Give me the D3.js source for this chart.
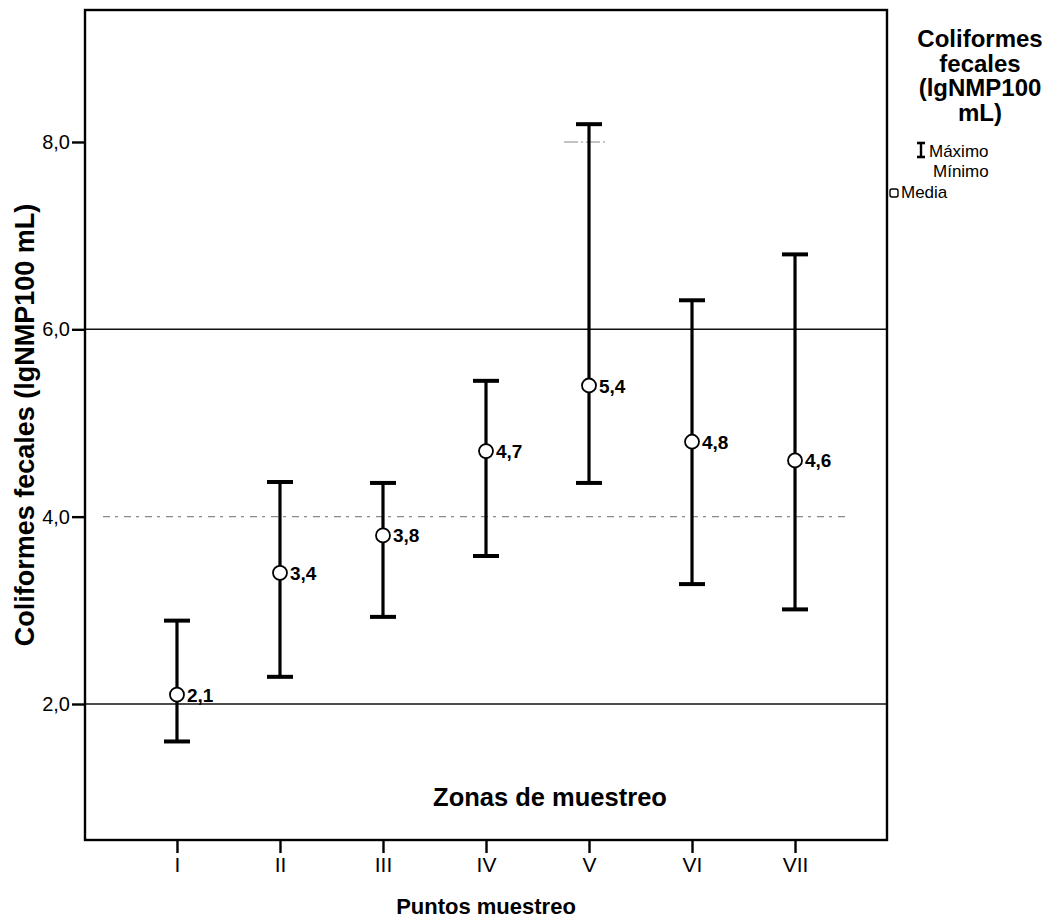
<!DOCTYPE html>
<html>
<head>
<meta charset="utf-8">
<script src="https://cdn.jsdelivr.net/npm/d3@7"></script>
<style>
  html, body { margin: 0; padding: 0; background: #fff; }
  svg { display: block; font-family: "Liberation Sans", Arial, sans-serif; }
</style>
</head>
<body>
<svg id="chart" width="1054" height="921"></svg>
<script>
// Sampling points and fecal coliform statistics (log NMP/100 mL)
const zonas   = ["I", "II", "III", "IV", "V", "VI", "VII"];
const maximos = [2.89, 4.37, 4.36, 5.45, 8.19, 6.31, 6.80];
const minimos = [1.60, 2.29, 2.93, 3.58, 4.36, 3.28, 3.01];
const medias  = [2.1, 3.4, 3.8, 4.7, 5.4, 4.8, 4.6];
const yTicks  = [2, 4, 6, 8];
const lineasSolidas = [2, 6];
const lineaPunteada = 4;
const lineaCorta = 8;   // short faint segment near zone V

const svg = d3.select("#chart");
const plot = { left: 85, right: 887, top: 10, bottom: 840 };

const x = d3.scalePoint().domain(zonas).range([plot.left, plot.right]).padding(0.893);
const y = d3.scaleLinear().domain([0.548, 9.409]).range([plot.bottom, plot.top]);
const coma = v => d3.format(".1f")(v).replace(".", ",");

const data = zonas.map((z, i) => ({ z, max: maximos[i], min: minimos[i], media: medias[i] }));

// Reference lines
svg.selectAll("line.ref-solid").data(lineasSolidas).join("line")
  .attr("class", "ref-solid")
  .attr("x1", plot.left).attr("x2", plot.right)
  .attr("y1", d => y(d)).attr("y2", d => y(d))
  .attr("stroke", "#111").attr("stroke-width", 1.6);

svg.append("line")
  .attr("x1", plot.left + 18).attr("x2", plot.right - 40)
  .attr("y1", y(lineaPunteada)).attr("y2", y(lineaPunteada))
  .attr("stroke", "#8a8a8a").attr("stroke-width", 1.2)
  .attr("stroke-dasharray", "7,5,3,6");

svg.append("line")
  .attr("x1", x("V") - 25).attr("x2", x("V") + 18)
  .attr("y1", y(lineaCorta)).attr("y2", y(lineaCorta))
  .attr("stroke", "#888").attr("stroke-width", 1.2)
  .attr("stroke-dasharray", "14,3,2,3");

// Frame
svg.append("rect")
  .attr("x", plot.left).attr("y", plot.top)
  .attr("width", plot.right - plot.left).attr("height", plot.bottom - plot.top)
  .attr("fill", "none").attr("stroke", "#000").attr("stroke-width", 2.4);

// Axes
const yAxis = svg.append("g")
  .attr("transform", `translate(${plot.left},0)`)
  .call(d3.axisLeft(y).tickValues(yTicks).tickFormat(coma).tickSize(13).tickPadding(2));
yAxis.select(".domain").remove();
yAxis.selectAll(".tick line").attr("stroke", "#000").attr("stroke-width", 2.4);
yAxis.selectAll(".tick text").attr("font-size", 20).attr("fill", "#000")
  .attr("font-family", "Liberation Sans, Arial, sans-serif");

const xAxis = svg.append("g")
  .attr("transform", `translate(0,${plot.bottom})`)
  .call(d3.axisBottom(x).tickSize(13).tickPadding(4));
xAxis.select(".domain").remove();
xAxis.selectAll(".tick line").attr("stroke", "#000").attr("stroke-width", 2.4);
xAxis.selectAll(".tick text").attr("font-size", 21).attr("fill", "#000")
  .attr("font-family", "Liberation Sans, Arial, sans-serif");

// Error bars (min to max)
const capW = 26;
const g = svg.append("g");
g.selectAll("line.stem").data(data).join("line")
  .attr("class", "stem")
  .attr("x1", d => x(d.z)).attr("x2", d => x(d.z))
  .attr("y1", d => y(d.max)).attr("y2", d => y(d.min))
  .attr("stroke", "#000").attr("stroke-width", 3.2);
g.selectAll("line.capmax").data(data).join("line")
  .attr("class", "capmax")
  .attr("x1", d => x(d.z) - capW / 2).attr("x2", d => x(d.z) + capW / 2)
  .attr("y1", d => y(d.max)).attr("y2", d => y(d.max))
  .attr("stroke", "#000").attr("stroke-width", 4);
g.selectAll("line.capmin").data(data).join("line")
  .attr("class", "capmin")
  .attr("x1", d => x(d.z) - capW / 2).attr("x2", d => x(d.z) + capW / 2)
  .attr("y1", d => y(d.min)).attr("y2", d => y(d.min))
  .attr("stroke", "#000").attr("stroke-width", 4);

// Mean markers and labels
g.selectAll("circle.media").data(data).join("circle")
  .attr("class", "media")
  .attr("cx", d => x(d.z)).attr("cy", d => y(d.media)).attr("r", 7)
  .attr("fill", "#fff").attr("stroke", "#000").attr("stroke-width", 1.8);
g.selectAll("text.val").data(data).join("text")
  .attr("class", "val")
  .attr("x", d => x(d.z) + 10).attr("y", d => y(d.media) + 7)
  .attr("font-size", 19).attr("font-weight", "bold")
  .text(d => coma(d.media));

// Titles
svg.append("text")
  .attr("transform", `translate(34,${(plot.top + plot.bottom) / 2}) rotate(-90)`)
  .attr("text-anchor", "middle").attr("font-size", 27).attr("font-weight", "bold")
  .text("Coliformes fecales (lgNMP100 mL)");

svg.append("text")
  .attr("x", (plot.left + plot.right) / 2).attr("y", 914)
  .attr("text-anchor", "middle").attr("font-size", 22).attr("font-weight", "bold")
  .text("Puntos muestreo");

svg.append("text")
  .attr("x", 550).attr("y", 806)
  .attr("text-anchor", "middle").attr("font-size", 25.5).attr("font-weight", "bold")
  .text("Zonas de muestreo");

// Legend
const legTitle = ["Coliformes", "fecales", "(lgNMP100", "mL)"];
svg.append("g").selectAll("text").data(legTitle).join("text")
  .attr("x", 980).attr("y", (d, i) => 47 + i * 24.5)
  .attr("text-anchor", "middle").attr("font-size", 24).attr("font-weight", "bold")
  .text(d => d);

const leg = svg.append("g");
leg.append("line").attr("x1", 921).attr("x2", 921).attr("y1", 143).attr("y2", 157)
  .attr("stroke", "#000").attr("stroke-width", 2.4);
leg.append("line").attr("x1", 917).attr("x2", 925).attr("y1", 143).attr("y2", 143)
  .attr("stroke", "#000").attr("stroke-width", 2.6);
leg.append("line").attr("x1", 917).attr("x2", 925).attr("y1", 157).attr("y2", 157)
  .attr("stroke", "#000").attr("stroke-width", 2.6);
leg.append("text").attr("x", 929).attr("y", 157).attr("font-size", 17).text("Máximo");
leg.append("text").attr("x", 933).attr("y", 177).attr("font-size", 17).text("Mínimo");
leg.append("rect").attr("x", 890).attr("y", 189).attr("width", 8).attr("height", 8)
  .attr("rx", 2).attr("fill", "#fff").attr("stroke", "#000").attr("stroke-width", 1.4);
leg.append("text").attr("x", 901).attr("y", 198).attr("font-size", 17).text("Media");
</script>
</body>
</html>
